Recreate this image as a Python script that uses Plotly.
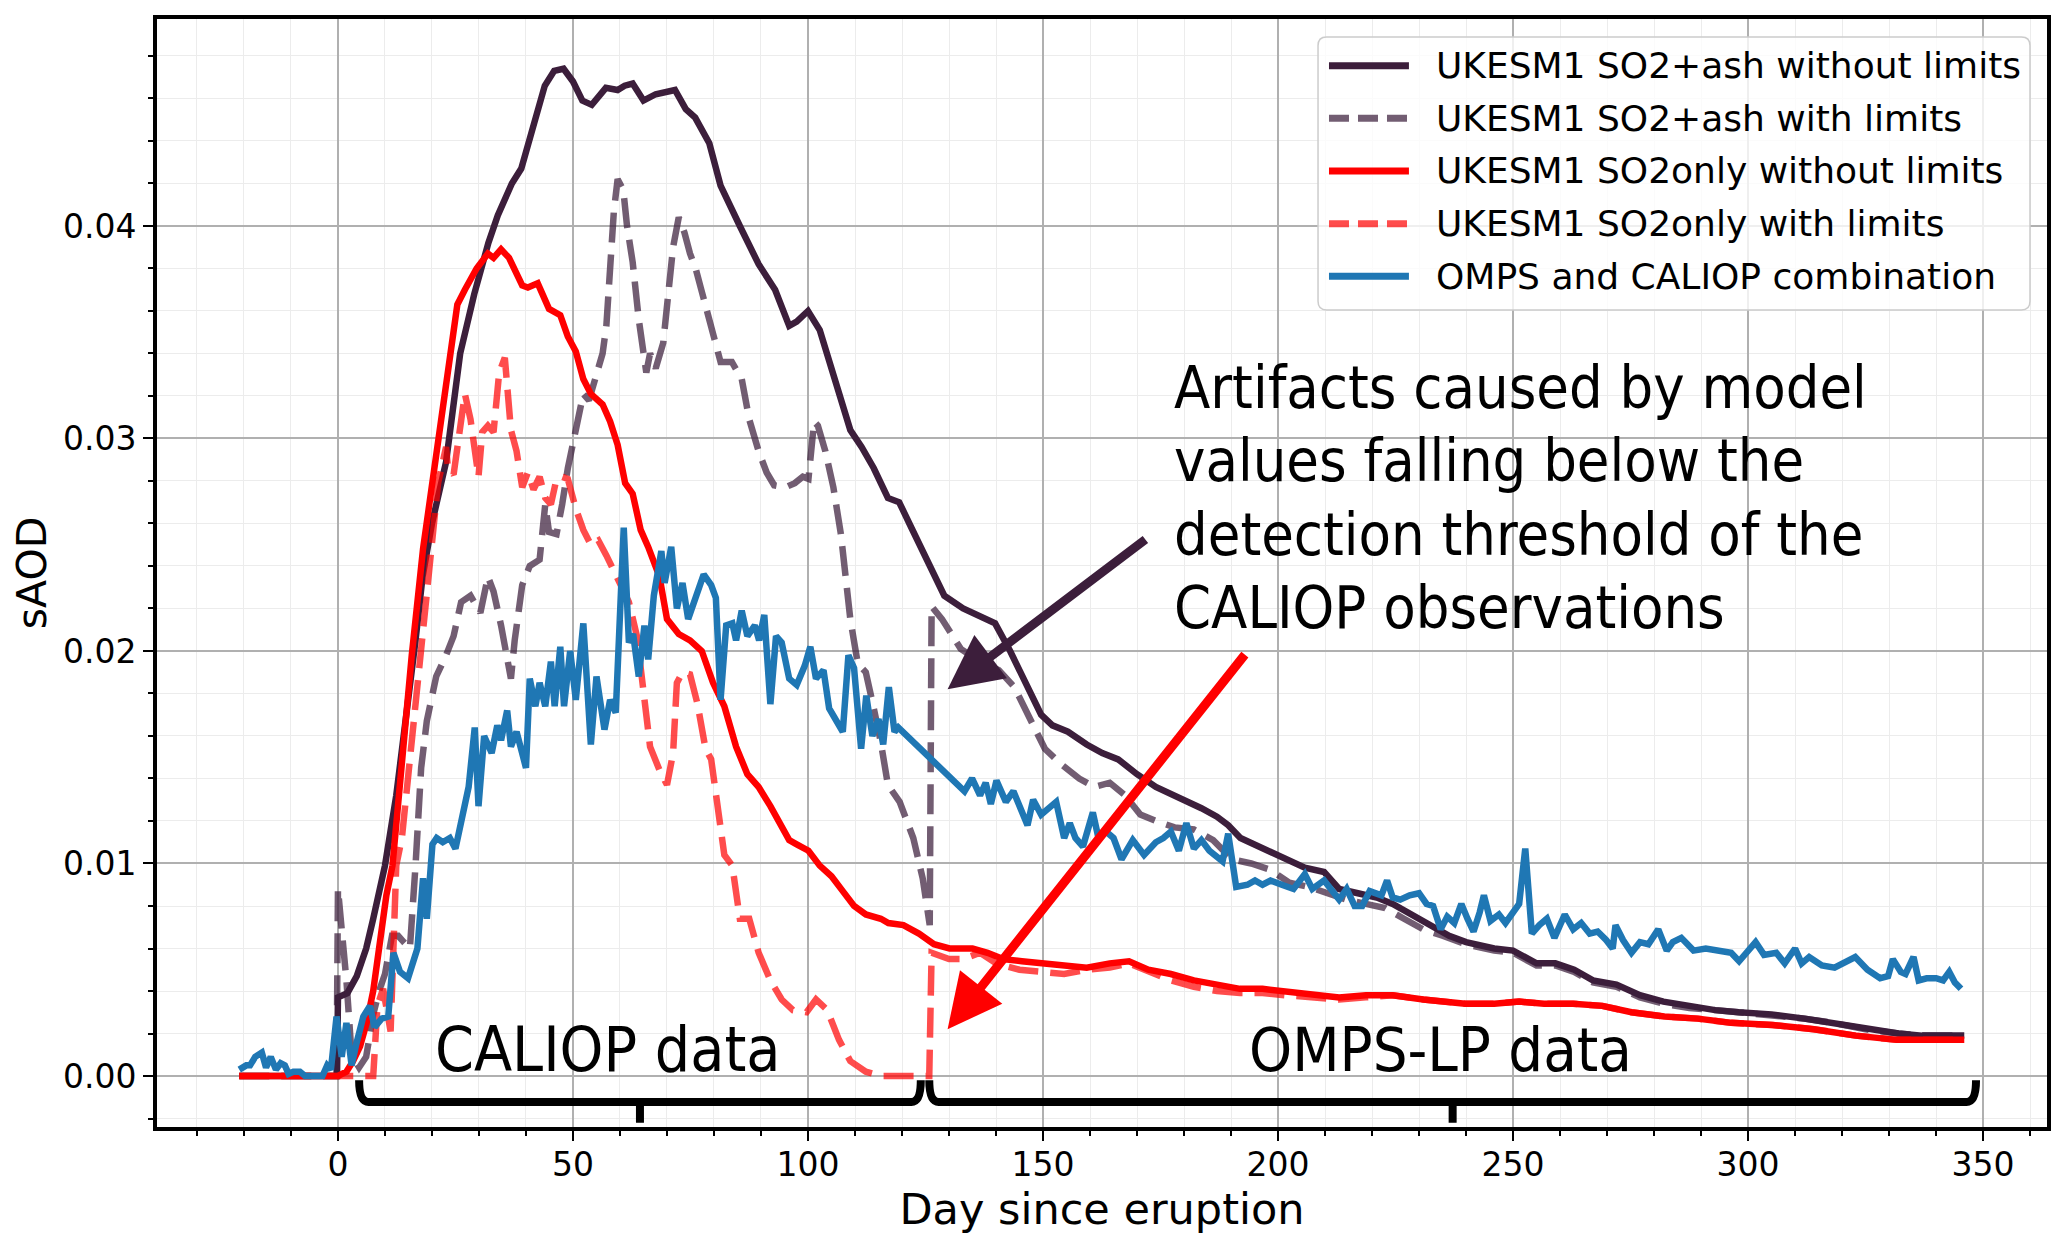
import plotly.graph_objects as go

# UKESM1 SO2+ash without limits
ash_nolim_day = [-21, -0.2, 0, 1, 2, 4, 6, 7.5, 9, 10, 12.4, 14.4, 16.5, 18, 20, 23, 26, 29, 32, 34, 37, 39,
                 41.6, 44, 46, 48, 50, 52, 54, 57, 59.5, 61, 62.7, 65, 67.6, 71.7, 74, 76, 79, 81.4, 85.5,
                 89.5, 93, 96, 97.6, 100, 102.5, 105.8, 109, 111.4, 114, 117, 119.4, 122, 124.4, 126, 129,
                 133, 136.6, 139.8, 143, 146.3, 149.6, 152, 155.3, 159.3, 162.6, 166, 170, 174, 177, 180.5,
                 183.7, 187, 189.4, 192, 195, 198.4, 201.6, 205.7, 209.8, 213, 217, 221, 224.4, 228.5, 232.5,
                 236.4, 240, 246, 250, 255, 259, 263, 267, 272, 277, 282, 287.5, 293, 298, 305, 312, 318,
                 325, 332, 337, 341, 346]
ash_nolim_aod = [0, 0, 0.0037, 0.0038, 0.0039, 0.0047, 0.006, 0.0074, 0.0089, 0.0099, 0.0132, 0.0165, 0.0205,
                 0.0235, 0.026, 0.0289, 0.034, 0.0368, 0.0392, 0.0405, 0.042, 0.0427, 0.0447, 0.0466, 0.0473,
                 0.0474, 0.0468, 0.0459, 0.0457, 0.0465, 0.0464, 0.0466, 0.0467, 0.0459, 0.0462, 0.0464, 0.0455,
                 0.0451, 0.0439, 0.0419, 0.04, 0.0382, 0.037, 0.0353, 0.0355, 0.036, 0.0351, 0.0328, 0.0304,
                 0.0296, 0.0286, 0.0272, 0.027, 0.0258, 0.0247, 0.0238, 0.0226, 0.022, 0.0216, 0.0213, 0.02,
                 0.0185, 0.017, 0.0165, 0.0162, 0.0156, 0.0152, 0.0149, 0.0142, 0.0136, 0.0133, 0.0129, 0.0126,
                 0.0122, 0.0118, 0.0112, 0.0109, 0.0106, 0.0102, 0.0098, 0.0096, 0.0088, 0.0086, 0.0084, 0.0081,
                 0.0076, 0.0071, 0.0066, 0.0063, 0.006, 0.0059, 0.0053, 0.0053, 0.005, 0.0045, 0.0043, 0.0038,
                 0.0035, 0.0033, 0.0031, 0.003, 0.0029, 0.0027, 0.0025, 0.0022, 0.002, 0.0019, 0.0019, 0.0019]

# UKESM1 SO2+ash with limits
ash_lim_day = [-21, -0.3, 0, 1.2, 1.8, 2.9, 4.5, 6, 7.5, 8.9, 10, 11.5, 12.8, 14, 15.3, 16.5, 17.7, 18.9, 20.9,
               23, 24.6, 26.2, 28.2, 30.3, 31.9, 33.1, 34.7, 36.8, 37.6, 39.2, 40.8, 42.9, 44.1, 44.9, 46.5,
               47.7, 48.9, 50.6, 52.2, 53.4, 54.6, 56.3, 57.1, 57.9, 58.7, 59.5, 60.7, 61.5, 62.7, 64, 65.2,
               65.6, 66.4, 67.6, 69.2, 70.5, 71.3, 72.5, 73.7, 74.9, 76.1, 77.3, 79, 80.2, 81.4, 83.8, 85.9,
               87.5, 89.5, 91.2, 92.8, 95.2, 97.2, 98.9, 100.1, 101.3, 102.1, 103.7, 105.4, 107, 108.2, 109,
               110.6, 112.3, 113.9, 115.5, 117, 119.5, 122.4, 124.4, 125.9, 126.3, 128.5, 132.5, 136.6, 140.6,
               143.9, 147.2, 150.4, 153.7, 157.7, 161, 164.2, 167.5, 170.7, 174, 178, 182.1, 186.2, 190.2,
               194.3, 198.4, 202.4, 206.5, 210.6, 214.6, 218.7, 222.8, 226.8, 230.9, 235, 240, 246, 250, 255,
               259, 263, 267, 272, 277, 282, 287.5, 293, 298, 305, 312, 318, 325, 332, 337, 341, 346]
ash_lim_aod = [0, 0, 0.0088, 0.0063, 0.0045, 0.001, 0.0004, 0.0009, 0.0029, 0.0041, 0.0048, 0.0066, 0.0066,
               0.0063, 0.006, 0.0099, 0.0145, 0.0167, 0.0188, 0.0198, 0.0207, 0.0223, 0.0226, 0.0218, 0.0235,
               0.0228, 0.0212, 0.0187, 0.0205, 0.0231, 0.024, 0.0243, 0.0269, 0.0256, 0.0255, 0.0269, 0.0286,
               0.0304, 0.0321, 0.0318, 0.0328, 0.034, 0.0353, 0.0383, 0.0407, 0.0422, 0.0417, 0.04, 0.0383,
               0.0356, 0.034, 0.0331, 0.034, 0.0333, 0.0345, 0.037, 0.039, 0.0404, 0.0397, 0.0387, 0.038, 0.037,
               0.0355, 0.0345, 0.0336, 0.0336, 0.0328, 0.0309, 0.0294, 0.0284, 0.0278, 0.0277, 0.0279, 0.0282,
               0.0281, 0.0308, 0.0306, 0.0294, 0.0277, 0.0255, 0.0228, 0.0215, 0.0194, 0.019, 0.0174, 0.0157,
               0.0137, 0.0129, 0.0112, 0.0093, 0.0071, 0.0221, 0.0215, 0.0201, 0.0195, 0.0191, 0.0183, 0.0169,
               0.0154, 0.0147, 0.014, 0.0136, 0.0138, 0.0132, 0.0123, 0.012, 0.0117, 0.0116, 0.0111, 0.0102,
               0.01, 0.0097, 0.0091, 0.0089, 0.0086, 0.0083, 0.0081, 0.0079, 0.0074, 0.0069, 0.0066, 0.0062,
               0.0059, 0.0058, 0.0052, 0.0052, 0.0049, 0.0044, 0.0042, 0.0037, 0.0034, 0.0032, 0.0031, 0.003,
               0.0029, 0.0027, 0.0025, 0.0022, 0.002, 0.0019, 0.0019, 0.0019]

# UKESM1 SO2only without limits
so2_nolim_day = [-21, 0, 1.8, 3.2, 4.7, 6.1, 7.5, 8.9, 10.3, 11.6, 13.6, 15.7, 18.1, 20.5, 23, 25.4, 27, 29.5,
                 31.9, 33.1, 34.7, 36.4, 39.2, 40.4, 42.5, 44.9, 47.3, 48.9, 50.6, 52.2, 53.8, 56.3, 57.9,
                 59.5, 61.1, 62.7, 64.4, 66, 68.4, 70, 72.5, 74.9, 77.4, 79.8, 82.2, 84.7, 87.1, 89.5, 92,
                 94.4, 96, 97.6, 100.1, 102.5, 105, 107.4, 109.8, 112.3, 115.5, 117.1, 120.3, 123.6, 126.8,
                 130.1, 135, 138.2, 141.5, 145.5, 149.6, 154.5, 159.3, 164.2, 168.3, 172.4, 177.2, 182.1, 187,
                 191.9, 196.7, 201.6, 206.5, 213, 218.7, 224.4, 230.9, 234.6, 239.8, 246, 251.3, 256.6, 262.8,
                 269, 275.2, 282.2, 289.3, 296.4, 305.2, 314, 322.9, 331.6, 338.7, 346]
so2_nolim_aod = [0, 0, 0.0002, 0.0007, 0.0014, 0.0025, 0.004, 0.0062, 0.0085, 0.0099, 0.0149, 0.0198, 0.0248,
                 0.0286, 0.0326, 0.0363, 0.037, 0.038, 0.0387, 0.0385, 0.0389, 0.0385, 0.0372, 0.0371, 0.0373,
                 0.0361, 0.0358, 0.0348, 0.0341, 0.0328, 0.0321, 0.0316, 0.0308, 0.0297, 0.0279, 0.0274, 0.0257,
                 0.0249, 0.0235, 0.0215, 0.0208, 0.0205, 0.02, 0.0185, 0.0174, 0.0155, 0.0142, 0.0136, 0.0127,
                 0.0117, 0.0111, 0.0109, 0.0106, 0.0099, 0.0094, 0.0087, 0.008, 0.0076, 0.0074, 0.0072, 0.0071,
                 0.0067, 0.0062, 0.006, 0.006, 0.0058, 0.0055, 0.0054, 0.0053, 0.0052, 0.0051, 0.0053, 0.0054,
                 0.005, 0.0048, 0.0045, 0.0043, 0.0041, 0.0041, 0.004, 0.0039, 0.0037, 0.0038, 0.0038, 0.0036,
                 0.0035, 0.0034, 0.0034, 0.0035, 0.0034, 0.0034, 0.0033, 0.003, 0.0028, 0.0027, 0.0025, 0.0024,
                 0.0022, 0.0019, 0.0017, 0.0017, 0.0017]

# UKESM1 SO2only with limits
so2_lim_day = [-21, 7.5, 8.4, 9.6, 11.2, 12.4, 13.6, 15.7, 16.5, 18.1, 19.7, 21.3, 23, 23.4, 24.6, 25.8, 27,
               28.2, 29.1, 29.9, 30.7, 31.9, 33.1, 34.3, 35.5, 36.8, 38, 39.2, 40.4, 41.6, 42.9, 44.1, 45.3,
               46.5, 47.7, 48.9, 50.6, 52.2, 53.8, 55.4, 57.1, 58.7, 61.9, 63.6, 65.2, 66.4, 68.4, 70, 71.3,
               72.1, 73.3, 74.9, 76.5, 78.2, 79.4, 80.6, 82.2, 83.9, 85.5, 87.5, 89.5, 92, 94.4, 96.8, 99.7,
               101.7, 104.1, 106.6, 109, 112.3, 115.5, 125.8, 126.3, 130, 133, 136.6, 140, 145, 149.6, 154.5,
               159.3, 164.2, 168.3, 172.4, 177.2, 182.1, 187, 191.9, 196.7, 201.6, 206.5, 213, 218.7, 224.4,
               230.9, 234.6, 239.8, 246, 251.3, 256.6, 262.8, 269, 275.2, 282.2, 289.3, 296.4, 305.2, 314,
               322.9, 331.6, 338.7, 346]
so2_lim_aod = [0, 0, 0.0033, 0.0041, 0.0021, 0.0099, 0.0112, 0.0157, 0.017, 0.021, 0.0244, 0.0279, 0.0296,
               0.0286, 0.0283, 0.0304, 0.0321, 0.0309, 0.0296, 0.0282, 0.0303, 0.0306, 0.0303, 0.0331, 0.0338,
               0.0304, 0.0294, 0.0277, 0.0284, 0.0276, 0.0282, 0.0272, 0.0269, 0.0281, 0.0282, 0.0281, 0.0267,
               0.0257, 0.025, 0.0252, 0.0245, 0.0238, 0.0223, 0.0207, 0.0174, 0.0155, 0.0144, 0.0137, 0.0152,
               0.0185, 0.019, 0.0189, 0.0175, 0.0154, 0.0149, 0.0129, 0.0104, 0.0099, 0.0074, 0.0074, 0.0058,
               0.0045, 0.0036, 0.0031, 0.003, 0.0036, 0.0031, 0.0017, 0.0007, 0.0002, 0, 0, 0.0058, 0.0055,
               0.0055, 0.0058, 0.0053, 0.005, 0.0049, 0.0048, 0.005, 0.0051, 0.0053, 0.0049, 0.0045, 0.0042,
               0.004, 0.0039, 0.0039, 0.0038, 0.0037, 0.0036, 0.0037, 0.0038, 0.0036, 0.0035, 0.0034, 0.0034,
               0.0035, 0.0034, 0.0034, 0.0033, 0.003, 0.0028, 0.0027, 0.0025, 0.0024, 0.0022, 0.0019, 0.0017,
               0.0017, 0.0017]

# OMPS and CALIOP combination
obs_day = [-21, -19.5, -18.7, -17.6, -16.2, -15.3, -14.3, -13.2, -12.2, -11.3, -10.5, -9.5, -8.1, -7, -5, -3.3,
           -2.3, -1.5, -0.3, 0.8, 1.8, 2.9, 3.9, 5.4, 6.8, 7.8, 9.3, 10.7, 11.8, 13.2, 14.9, 16.9, 18.1, 18.9,
           20.1, 21, 22.3, 23.8, 25, 26.6, 27.8, 29.1, 29.9, 31.1, 32.7, 33.9, 34.7, 36, 36.8, 38, 40, 40.8, 42,
           42.9, 44.1, 45.3, 46.1, 47.3, 48.1, 49.4, 50.6, 52.2, 53.8, 55, 56.7, 57.9, 59.1, 60.8, 61.9, 62.8,
           64, 65.2, 66, 67.2, 68.8, 69.5, 70.9, 72.1, 73.3, 74.5, 76, 77.8, 79.4, 80.4, 81.4, 82.6, 83.9, 84.7,
           85.9, 87.1, 88.7, 89.6, 90.7, 92, 93.2, 94.4, 96, 97.6, 99.3, 100.5, 101.7, 103.3, 104.5, 105.8,
           107.4, 108.6, 109.8, 111.3, 112.4, 113.7, 115, 116, 117.2, 118.4, 119.2, 133.3, 134.9, 136.6, 137.8,
           138.9, 140.1, 142.1, 143.7, 146.7, 147.9, 149.6, 151.2, 152.8, 154.5, 155.7, 156.9, 158.5, 160.6,
           161.8, 163.4, 165, 166.7, 169.1, 171.5, 174, 175.6, 177.2, 178.9, 180.5, 182.1, 183.7, 185.4, 188.2,
           189.4, 191.1, 193.5, 195.1, 196.7, 198.4, 200.8, 203.3, 205.7, 207.3, 209.8, 211.4, 213, 214.6,
           216.3, 217.9, 219.5, 222, 223.2, 224.4, 226, 228, 230, 231.6, 233, 234.6, 236, 237.5, 239, 240.3,
           241.6, 242.9, 243.8, 245.2, 247, 248.4, 251.3, 252.6, 254, 255.6, 257.2, 258.8, 261, 262.8, 264.5,
           266.3, 268, 269.8, 271.2, 271.8, 273.4, 275.2, 277, 278.8, 280.9, 282.7, 284, 285.8, 288.4, 291,
           293.8, 296.4, 298.1, 299.8, 301.6, 303.4, 306, 307.8, 310, 311.4, 313, 315.7, 318.4, 322.8, 325.4,
           328.1, 329.8, 330.8, 332.5, 333.5, 335.2, 336.3, 338, 340, 341.5, 342.8, 344, 345.3]
obs_aod = [0.0003, 0.0005, 0.0005, 0.0009, 0.0011, 0.0004, 0.0009, 0.0003, 0.0006, 0.0005, 0.0001, 0.0002, 0.0002,
           0, 0, 0, 0.0005, 0.0003, 0.0028, 0.0009, 0.0025, 0.0005, 0.0015, 0.0028, 0.0033, 0.0023, 0.0027,
           0.0028, 0.0058, 0.0049, 0.0046, 0.006, 0.0093, 0.0074, 0.0109, 0.0112, 0.011, 0.0112, 0.0107, 0.0122,
           0.0136, 0.0164, 0.0127, 0.016, 0.0152, 0.0165, 0.0158, 0.0172, 0.0155, 0.0162, 0.0145, 0.0187, 0.0174,
           0.0185, 0.0174, 0.0195, 0.0174, 0.0202, 0.0174, 0.02, 0.0177, 0.0213, 0.0156, 0.0188, 0.0163, 0.0177,
           0.0171, 0.0258, 0.0204, 0.0208, 0.0188, 0.0212, 0.0196, 0.0226, 0.0247, 0.0232, 0.0249, 0.022, 0.0232,
           0.0215, 0.0225, 0.0236, 0.0231, 0.0225, 0.0177, 0.0212, 0.0213, 0.0205, 0.0219, 0.0207, 0.0212,
           0.0205, 0.0217, 0.0175, 0.0207, 0.0204, 0.0187, 0.0184, 0.0193, 0.0202, 0.0187, 0.0191, 0.0173,
           0.0168, 0.0162, 0.0198, 0.0192, 0.0154, 0.0179, 0.016, 0.0168, 0.0156, 0.0183, 0.0162, 0.0164,
           0.0134, 0.014, 0.0132, 0.0138, 0.0128, 0.0139, 0.0129, 0.0134, 0.0118, 0.013, 0.0123, 0.0126, 0.0129,
           0.0112, 0.0119, 0.0112, 0.0108, 0.0124, 0.0112, 0.0115, 0.0112, 0.0102, 0.0111, 0.0104, 0.011,
           0.0112, 0.0115, 0.0106, 0.0119, 0.0107, 0.0111, 0.0106, 0.0101, 0.0114, 0.0089, 0.009, 0.0092, 0.009,
           0.0092, 0.009, 0.0088, 0.0095, 0.0088, 0.0092, 0.0087, 0.0083, 0.0088, 0.008, 0.008, 0.0087, 0.0085,
           0.0092, 0.0084, 0.0083, 0.0085, 0.0086, 0.0081, 0.008, 0.0069, 0.0075, 0.0072, 0.0081, 0.0074,
           0.0068, 0.0077, 0.0085, 0.0073, 0.0076, 0.0072, 0.0081, 0.0107, 0.0067, 0.0071, 0.0074, 0.0065,
           0.0076, 0.0069, 0.0072, 0.0067, 0.0068, 0.0064, 0.006, 0.0071, 0.0064, 0.0058, 0.0063, 0.0062, 0.0069,
           0.0059, 0.0063, 0.0065, 0.0059, 0.006, 0.0059, 0.0058, 0.0054, 0.0058, 0.0063, 0.0057, 0.0058, 0.0053,
           0.006, 0.0053, 0.0056, 0.0052, 0.0051, 0.0056, 0.005, 0.0046, 0.0047, 0.0055, 0.0049, 0.0048, 0.0056,
           0.0045, 0.0046, 0.0046, 0.0045, 0.0049, 0.0044, 0.0041]

# periods covered by each instrument (days since eruption)
caliop_span = (4.5, 124.0)
omps_span = (125.8, 348.5)

dark = '#3c1e3b'
dark_lim = 'rgba(60,30,59,0.72)'
red_lim = 'rgba(255,0,0,0.7)'
blue = '#1f77b4'
dashes = '30px,12px'
tick_font = dict(family='DejaVu Sans', size=33, color='black')
note_font = 'DejaVu Sans Condensed, Liberation Sans Narrow, sans-serif'

series = [
    ('UKESM1 SO2+ash without limits', ash_nolim_day, ash_nolim_aod, dark, 'solid'),
    ('UKESM1 SO2+ash with limits', ash_lim_day, ash_lim_aod, dark_lim, dashes),
    ('UKESM1 SO2only without limits', so2_nolim_day, so2_nolim_aod, 'red', 'solid'),
    ('UKESM1 SO2only with limits', so2_lim_day, so2_lim_aod, red_lim, dashes),
    ('OMPS and CALIOP combination', obs_day, obs_aod, blue, 'solid'),
]

fig = go.Figure()
for name, xs, ys, col, dash in series:
    fig.add_trace(go.Scatter(x=xs, y=ys, mode='lines', name=name, showlegend=False,
                             line=dict(color=col, width=6.5, dash=dash)))

# braces under the data periods
bar_y, end_y, tip_y = -0.00122, -0.0002, -0.0022
for x0, x1 in (caliop_span, omps_span):
    xm = (x0 + x1) / 2
    r = 2.0
    path = (f'M{x0},{end_y} Q{x0},{bar_y} {x0 + r},{bar_y} L{x1 - r},{bar_y} '
            f'Q{x1},{bar_y} {x1},{end_y} M{xm},{bar_y} L{xm},{tip_y}')
    fig.add_shape(type='path', path=path, xref='x', yref='y',
                  line=dict(color='black', width=8))

fig.add_annotation(x=sum(caliop_span) / 2 - 7, y=0.00125, text='CALIOP data', showarrow=False,
                   font=dict(family=note_font, size=62, color='black'), xanchor='center', yanchor='middle')
fig.add_annotation(x=sum(omps_span) / 2 - 2.5, y=0.00125, text='OMPS-LP data', showarrow=False,
                   font=dict(family=note_font, size=61, color='black'), xanchor='center', yanchor='middle')

note_lines = ['Artifacts caused by model', 'values falling below the',
              'detection threshold of the', 'CALIOP observations']
for k, line in enumerate(note_lines):
    fig.add_annotation(x=177.4, y=0.0324 - k * 0.00345, text=line, showarrow=False,
                       font=dict(family=note_font, size=59, color='black'),
                       xanchor='left', yanchor='middle')

# arrows pointing at the artifacts
fig.add_annotation(x=129.7, y=0.0182, ax=172.1, ay=0.0253, axref='x', ayref='y', text='',
                   showarrow=True, arrowhead=2, arrowsize=1.2, arrowwidth=9, arrowcolor=dark)
fig.add_annotation(x=129.7, y=0.0022, ax=193.2, ay=0.0199, axref='x', ayref='y', text='',
                   showarrow=True, arrowhead=2, arrowsize=1.2, arrowwidth=9, arrowcolor='#ff0000')

# legend box drawn by hand so the line samples get the long matplotlib look
lx0, lx1, ly0, ly1 = 0.6143, 0.991, 0.7374, 0.9838
rx, ry = 0.0045, 0.0078
box = (f'M{lx0 + rx},{ly1} L{lx1 - rx},{ly1} Q{lx1},{ly1} {lx1},{ly1 - ry} '
       f'L{lx1},{ly0 + ry} Q{lx1},{ly0} {lx1 - rx},{ly0} L{lx0 + rx},{ly0} '
       f'Q{lx0},{ly0} {lx0},{ly0 + ry} L{lx0},{ly1 - ry} Q{lx0},{ly1} {lx0 + rx},{ly1} Z')
fig.add_shape(type='path', path=box, xref='paper', yref='paper',
              fillcolor='rgba(255,255,255,0.8)', line=dict(color='#cccccc', width=1.5))
for k, (name, xs, ys, col, dash) in enumerate(series):
    yk = 0.9579 - k * 0.04753
    fig.add_shape(type='line', xref='paper', yref='paper', x0=0.6201, x1=0.6624, y0=yk, y1=yk,
                  line=dict(color=col, width=7, dash='20px,9px' if dash != 'solid' else 'solid'))
    fig.add_annotation(x=0.6755, y=yk, xref='paper', yref='paper', text=name, showarrow=False,
                       xanchor='left', yanchor='middle',
                       font=dict(family='DejaVu Sans', size=36, color='black'))

axis_common = dict(showline=True, linewidth=4, linecolor='black', mirror=True,
                   ticks='outside', ticklen=10, tickwidth=2, tickcolor='black',
                   showgrid=True, gridcolor='#b0b0b0', gridwidth=1.5, zeroline=False,
                   tickfont=tick_font, automargin=False)

fig.update_layout(
    width=2067, height=1245,
    margin=dict(l=149, r=28, t=11, b=126),
    paper_bgcolor='white', plot_bgcolor='white',
    font=dict(family='DejaVu Sans', color='black'),
    xaxis=dict(range=[-38.5, 363.6], tick0=0, dtick=50, ticklabelstandoff=-5,
               minor=dict(dtick=10, ticks='outside', ticklen=5, tickwidth=1.5, tickcolor='black',
                          showgrid=True, gridcolor='#ececec', gridwidth=1),
               title=dict(text='Day since eruption', font=dict(size=43), standoff=4),
               **axis_common),
    yaxis=dict(range=[-0.0024, 0.04974], tick0=0, dtick=0.01, tickformat='.2f',
               minor=dict(dtick=0.002, ticks='outside', ticklen=5, tickwidth=1.5, tickcolor='black',
                          showgrid=True, gridcolor='#ececec', gridwidth=1),
               title=dict(text='sAOD', font=dict(size=41), standoff=10),
               **axis_common),
    showlegend=False,
)

fig.write_html('out.html')
